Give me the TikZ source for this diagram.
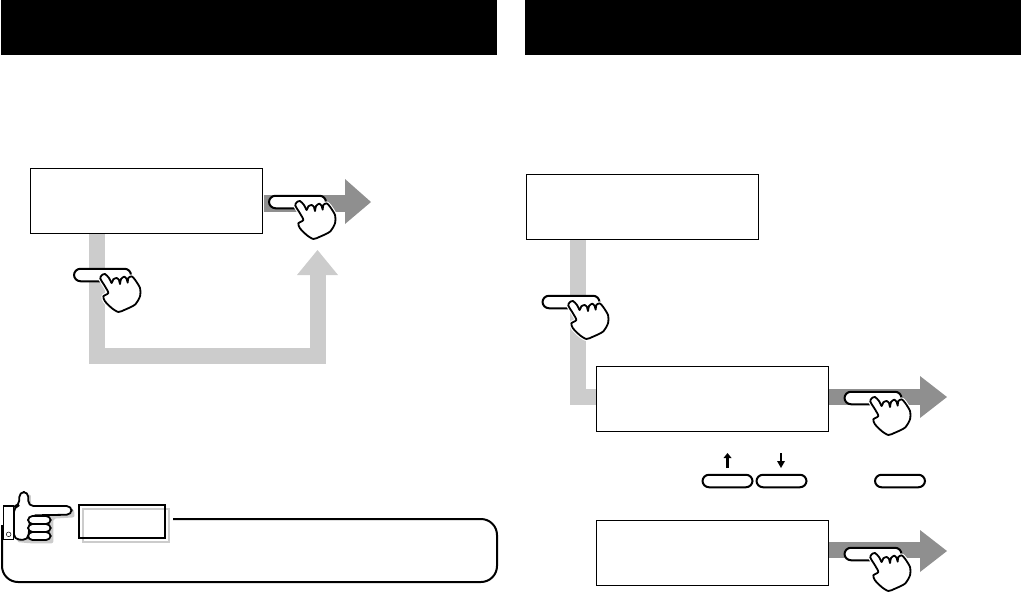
\documentclass[tikz,border=0pt]{standalone}
\usetikzlibrary{calc}
\definecolor{bandlight}{gray}{0.80}
\definecolor{banddark}{gray}{0.56}
\newcommand{\handoutline}{plot[smooth cycle,tension=0.42] coordinates {(-1,-2)(9,-6)(21,6)(29,21)(34,10)(44,6)(51,12)(54,24)(57,9)(67,2)(74,9)(77,20)(79,6)(89,1)(99,11)(114,36)(114,61)(99,86)(69,101)(49,108)(29,96)(9,76)(4,61)(19,51)(9,31)(-5,8)}}
\tikzset{
  panel/.style={draw=black,line width=1pt,fill=white,inner sep=0pt,minimum width=#1,minimum height=65pt},
  panel/.default=232pt,
  header/.style={fill=black,inner sep=0pt,minimum width=496pt,minimum height=55pt},
  pill/.style={draw=black,line width=2pt,fill=white,rounded corners=6.5pt,inner sep=0pt,minimum width=#1,minimum height=12.5pt},
  pill/.default=57pt,
  lightband/.style={draw=bandlight,line width=16pt},
  darkband/.style={draw=banddark,line width=16pt},
  outl/.style={draw=black,line width=1.8pt,line join=round,line cap=round},
  presshand/.pic={
    \begin{scope}[x=0.3333pt,y=-0.3333pt]
      \path[fill=white,draw=white,line width=4pt,line join=round] \handoutline;
      \path[outl,fill=white] \handoutline;
    \end{scope}
  }
}
\begin{document}
\begin{tikzpicture}[x=1pt,y=-1pt]
\useasboundingbox (0,0) rectangle (1021,595);
% headers
\node[header] (headL) at (249,27.5) {};
\node[header] (headR) at (773,27.5) {};
% left flow: bands first
\coordinate (lvTop) at (97,234);
\coordinate (lCorner) at (97,355.5);
\coordinate (lCorner2) at (317.5,355.5);
\coordinate (lHeadBase) at (317.5,274);
\draw[lightband,line cap=butt,line join=miter] (lvTop) -- (lCorner) -- (lCorner2) -- (lHeadBase);
\fill[bandlight] (297,275) -- (317.5,250) -- (338,275) -- cycle;
\coordinate (lOut) at (264,203);
\coordinate (lOutEnd) at (346,203);
\draw[darkband,line width=17pt] (lOut) -- (lOutEnd);
\fill[banddark] (345,179) -- (371,202) -- (345,224) -- cycle;
\node[panel] (boxA) at (146.5,201) {};
\node[pill] (btnA) at (297.5,202) {};
\pic at (297,203) {presshand};
\node[pill] (btnB) at (102.5,275) {};
\pic at (102,276) {presshand};
% right flow
\coordinate (rvTop) at (578,239);
\coordinate (rCorner) at (578,397);
\coordinate (rvEnd) at (597,397);
\draw[lightband,line cap=butt,line join=miter] (rvTop) -- (rCorner) -- (rvEnd);
\node[panel] (boxB) at (642,206.5) {};
\node[pill] (btnC) at (571,302) {};
\pic at (570,303) {presshand};
\coordinate (rOut1) at (828,397);
\coordinate (rOut1End) at (921,397);
\draw[darkband] (rOut1) -- (rOut1End);
\fill[banddark] (920,376) -- (947,397) -- (920,418) -- cycle;
\node[panel] (boxC) at (712,399) {};
\node[pill] (btnD) at (873,398) {};
\pic at (872,399) {presshand};
\coordinate (rOut2) at (829,550);
\coordinate (rOut2End) at (921,550);
\draw[darkband] (rOut2) -- (rOut2End);
\fill[banddark] (920,530) -- (947,551) -- (920,572) -- cycle;
\node[panel] (boxD) at (712,552.5) {};
\node[pill] (btnE) at (873,554) {};
\pic at (872,555) {presshand};
% small keys
\node[pill=50pt] (keyUp) at (727.5,481) {};
\node[pill=50pt] (keyDown) at (781.5,481) {};
\node[pill=50pt] (keyOk) at (900,481) {};
\coordinate (upTail) at (727.5,468);
\coordinate (upTip) at (727.5,453);
\coordinate (downTail) at (781,453);
\coordinate (downTip) at (781,468);
\draw[line width=3pt] (upTail) -- ($(upTip)+(0,4)$);
\fill (upTip) -- ++(4,5) -- ++(-8,0) -- cycle;
\draw[line width=1.8pt] (downTail) -- ($(downTip)+(0,-5)$);
\fill (downTip) -- ++(4,-7) -- ++(-8,0) -- cycle;
% note frame
\draw[line width=2pt,rounded corners=16pt] (2,525) -- (2,582) -- (497,582) -- (497,519) -- (173,519);
\draw[bandlight,line width=1.8pt] (83,509) rectangle (169,542);
\node[draw=black,line width=2pt,inner sep=0pt,minimum width=86pt,minimum height=33pt] (noteLabel) at (121.5,521) {};
% pointing hand
\begin{scope}[shift={(0,480)},x=0.3333pt,y=-0.3333pt]
  \fill[bandlight,rounded corners=2pt] (50,186) -- (50,85) -- (68,85) -- (68,50) -- (92,42) -- (94,86) -- (222,86) -- (224,112) -- (160,116) -- (160,190) -- (90,190) -- cycle;
  \path[fill=white,outl,rounded corners=5pt] (42,178) -- (42,80) -- (58,76) -- (58,36) -- (85,36) -- (85,78) -- (215,78) -- (215,104) -- (92,106) -- (84,180) -- cycle;
  \draw[line width=1.6pt,fill=white] (10,78) rectangle (40,178);
  \draw[line width=0.5pt,fill=white] (26,163) circle[radius=7];
  \foreach \yy in {108,132,156} {
    \draw[outl,fill=white,rounded corners=4.5pt] (84,\yy) rectangle (152,\yy+24);
  }
\end{scope}
\end{tikzpicture}
\end{document}
